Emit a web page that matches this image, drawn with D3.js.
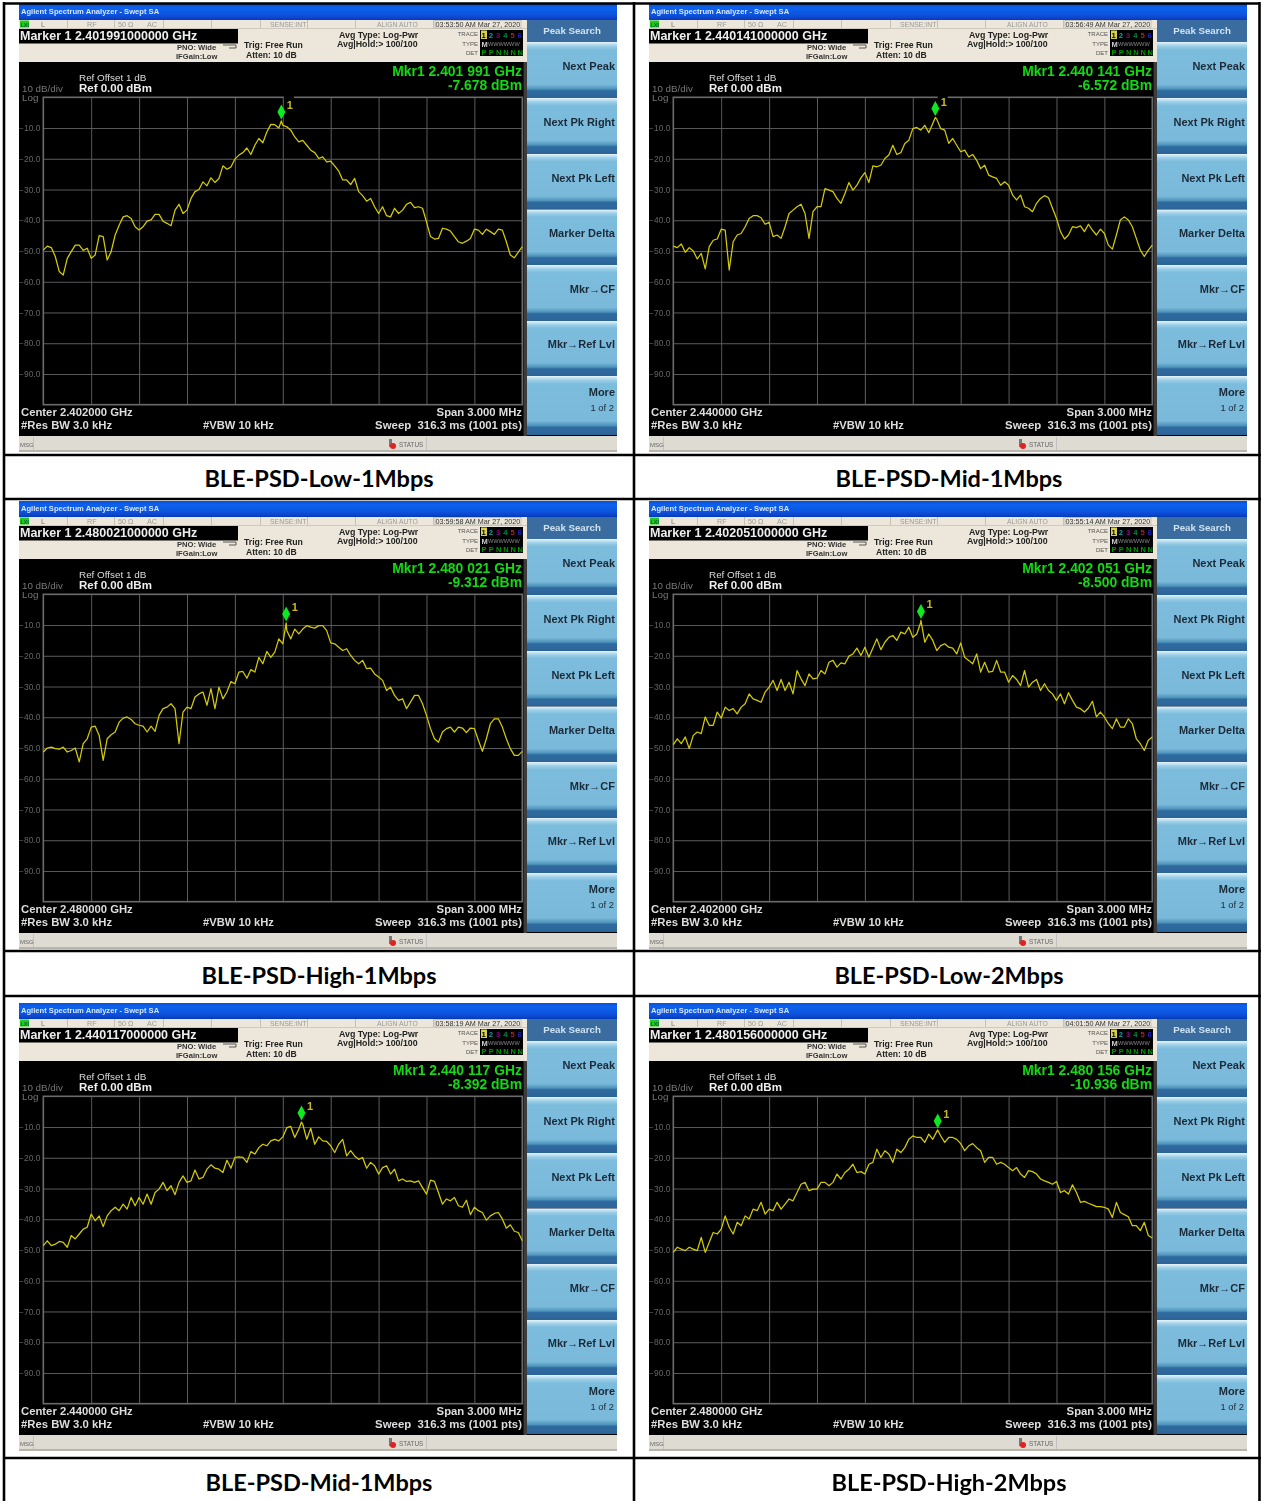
<!DOCTYPE html>
<html><head><meta charset="utf-8">
<script src="https://cdn.jsdelivr.net/npm/d3@7"></script>
<style>html,body{margin:0;padding:0;background:#fff}svg{display:block}text{font-family:"Liberation Sans",Arial,sans-serif}</style>
</head><body><div id="chart"></div>
<script>
const captions=["BLE-PSD-Low-1Mbps","BLE-PSD-Mid-1Mbps","BLE-PSD-High-1Mbps","BLE-PSD-Low-2Mbps","BLE-PSD-Mid-1Mbps","BLE-PSD-High-2Mbps"];
const centersGHz=[2.402,2.44,2.48,2.402,2.44,2.48];
const markersGHz=[2.401991,2.440141,2.480021,2.402051,2.440117,2.480156];
const markerLevels=[-7.678,-6.572,-9.312,-8.5,-8.392,-10.936];
const timeStamps=["03:53:50 AM","03:56:49 AM","03:59:58 AM","03:55:14 AM","03:58:19 AM","04:01:50 AM"];
const softKeys=["Next Peak","Next Pk Right","Next Pk Left","Marker Delta","Mkr→CF","Mkr→Ref Lvl","More"];
const yTicks=[-10,-20,-30,-40,-50,-60,-70,-80,-90];
const xTicksMHz=[-1.2,-0.9,-0.6,-0.3,0,0.3,0.6,0.9,1.2];
const traceLow1M=[-49.7,-48.4,-48.9,-51.8,-56.7,-57.8,-52.4,-50.2,-48.1,-48.1,-49.8,-49.1,-52.4,-51.3,-45.0,-45.3,-52.9,-50.2,-44.8,-41.6,-38.9,-38.5,-39.4,-42.1,-43.2,-42.1,-40.3,-39.9,-38.1,-38.1,-40.3,-41.0,-41.8,-36.7,-34.8,-37.8,-36.7,-32.9,-30.7,-30.0,-27.5,-28.8,-26.2,-27.7,-26.4,-22.3,-23.4,-22.7,-20.1,-18.8,-18.0,-16.5,-18.6,-15.6,-13.4,-14.8,-11.3,-8.8,-8.9,-10.0,-9.1,-9.6,-10.7,-12.9,-14.5,-14.0,-15.6,-17.2,-18.0,-19.9,-19.4,-21.0,-20.8,-22.3,-24.0,-26.9,-26.9,-28.4,-26.4,-30.7,-32.0,-33.8,-32.9,-35.6,-37.8,-35.6,-38.5,-38.9,-36.1,-37.8,-36.7,-34.8,-34.2,-35.9,-35.6,-36.1,-40.5,-45.3,-46.1,-45.9,-42.6,-42.9,-43.5,-45.3,-47.0,-47.5,-46.8,-45.9,-42.9,-43.2,-44.6,-42.9,-43.7,-44.6,-42.9,-43.2,-47.0,-51.3,-52.2,-50.4,-48.6];
const traceMid1M=[-48.4,-48.9,-47.7,-50.4,-48.9,-50.0,-52.6,-50.8,-55.8,-48.6,-46.5,-46.1,-42.9,-43.2,-56.2,-47.0,-44.8,-44.3,-42.1,-39.4,-38.5,-38.5,-39.2,-41.3,-40.7,-45.3,-44.8,-45.9,-42.1,-37.8,-36.7,-35.6,-34.8,-37.8,-45.9,-37.2,-35.6,-35.6,-29.7,-30.2,-30.7,-32.9,-34.5,-31.3,-27.7,-30.2,-28.6,-26.2,-24.5,-27.7,-22.3,-22.6,-22.1,-19.9,-18.8,-15.6,-18.6,-18.0,-15.0,-14.0,-10.2,-9.8,-10.7,-9.1,-11.5,-8.5,-7.1,-10.2,-10.7,-15.0,-13.4,-15.6,-17.7,-17.2,-19.4,-18.6,-20.5,-23.2,-22.1,-25.3,-25.9,-26.4,-28.6,-27.5,-28.6,-31.8,-33.4,-31.8,-35.6,-36.1,-37.2,-34.5,-32.9,-32.0,-32.7,-36.1,-39.4,-43.7,-46.1,-44.8,-42.1,-42.4,-41.8,-43.7,-41.3,-43.2,-44.8,-42.9,-44.3,-48.1,-49.4,-44.8,-39.9,-38.9,-39.9,-42.1,-45.9,-49.7,-51.8,-49.7,-48.1];
const traceHigh1M=[-51.3,-50.0,-49.7,-50.2,-50.4,-49.7,-51.3,-50.8,-50.0,-54.5,-48.6,-47.0,-43.2,-42.9,-45.9,-54.0,-47.0,-45.7,-44.8,-41.6,-40.3,-39.9,-40.7,-42.1,-42.6,-42.9,-44.8,-42.9,-44.6,-39.4,-37.2,-36.7,-35.6,-37.2,-48.6,-38.3,-36.7,-37.2,-33.4,-32.4,-31.8,-36.1,-30.7,-37.2,-30.2,-34.0,-31.8,-28.4,-29.1,-25.3,-25.1,-27.3,-24.5,-25.3,-20.5,-22.6,-18.6,-20.5,-18.8,-14.5,-16.1,-11.8,-14.5,-11.3,-12.9,-11.3,-10.2,-10.7,-11.0,-10.2,-10.2,-11.8,-15.8,-16.1,-17.2,-18.3,-17.7,-19.9,-21.5,-22.6,-21.5,-24.2,-24.0,-25.9,-26.9,-28.0,-31.3,-30.2,-32.9,-34.5,-34.0,-37.2,-35.1,-32.9,-32.9,-35.6,-39.4,-43.7,-47.0,-48.1,-44.8,-43.7,-43.2,-44.8,-43.2,-43.5,-45.0,-43.5,-43.7,-47.5,-51.1,-47.0,-42.1,-40.5,-40.5,-43.2,-47.0,-50.2,-52.4,-52.4,-51.1];
const traceLow2M=[-48.9,-47.0,-48.6,-46.4,-50.2,-45.9,-44.8,-45.3,-39.9,-42.6,-42.6,-38.3,-40.3,-36.7,-37.8,-37.2,-38.9,-36.7,-35.6,-32.4,-34.0,-34.5,-35.1,-31.8,-30.2,-28.0,-31.3,-27.7,-31.3,-28.6,-32.4,-24.8,-27.5,-29.7,-25.9,-27.5,-27.3,-24.8,-25.9,-22.1,-21.5,-23.7,-22.3,-22.6,-20.1,-19.4,-17.5,-19.9,-17.2,-20.5,-17.5,-14.5,-18.0,-15.6,-14.0,-13.4,-15.0,-12.3,-12.9,-10.7,-14.0,-12.9,-9.1,-15.6,-12.9,-15.0,-18.3,-16.7,-16.1,-17.2,-17.5,-19.4,-15.8,-20.5,-21.5,-22.6,-19.4,-25.3,-22.1,-25.3,-25.1,-21.5,-25.3,-25.3,-28.6,-26.4,-27.7,-29.7,-24.8,-30.2,-28.6,-27.7,-31.3,-29.1,-31.3,-32.4,-34.5,-32.4,-35.6,-32.0,-34.5,-36.7,-37.2,-38.3,-37.0,-34.8,-39.9,-38.3,-39.9,-42.1,-43.7,-40.5,-43.2,-43.2,-40.5,-42.1,-47.0,-48.6,-50.8,-47.5,-46.4];
const traceMid1Mb=[-48.6,-47.0,-48.6,-48.1,-47.2,-47.5,-49.1,-45.3,-46.4,-44.8,-43.2,-42.6,-38.3,-40.5,-38.9,-42.4,-38.9,-37.2,-36.1,-37.2,-35.1,-36.7,-32.9,-35.6,-32.9,-35.1,-31.8,-35.1,-31.3,-30.2,-28.0,-30.7,-29.1,-32.0,-28.0,-25.9,-28.0,-27.5,-24.0,-26.9,-26.4,-23.7,-22.3,-23.4,-23.7,-24.8,-20.8,-23.4,-19.9,-19.7,-19.9,-21.5,-18.0,-18.8,-16.7,-15.6,-16.1,-14.5,-14.0,-14.5,-13.2,-10.2,-9.8,-13.4,-10.7,-9.1,-14.0,-10.4,-15.6,-13.2,-14.5,-14.7,-16.1,-18.3,-15.6,-14.0,-19.4,-17.7,-19.4,-20.5,-19.9,-23.4,-21.5,-22.6,-25.3,-23.2,-22.6,-25.3,-23.7,-27.5,-26.9,-27.7,-27.5,-28.0,-27.5,-29.7,-31.8,-27.3,-27.7,-31.3,-35.1,-33.4,-34.0,-32.9,-35.6,-36.1,-33.8,-38.5,-36.1,-37.2,-37.8,-40.3,-38.9,-38.1,-37.8,-39.9,-42.9,-41.8,-43.9,-44.3,-47.0];
const traceHigh2M=[-50.8,-49.1,-49.7,-50.2,-49.1,-49.7,-50.2,-45.9,-50.8,-47.5,-44.3,-44.8,-43.2,-38.9,-42.6,-44.8,-41.0,-42.1,-38.9,-39.9,-36.7,-37.2,-34.5,-38.3,-36.7,-37.2,-34.5,-36.7,-35.1,-33.4,-34.0,-31.3,-28.6,-28.0,-30.7,-30.2,-30.2,-28.0,-28.0,-29.1,-28.0,-25.3,-26.9,-24.8,-23.7,-22.1,-24.8,-24.5,-25.3,-22.1,-21.5,-17.2,-19.9,-17.7,-18.8,-21.5,-17.2,-18.3,-16.7,-14.0,-12.9,-13.4,-13.4,-15.0,-12.3,-14.0,-11.5,-12.9,-15.0,-13.4,-13.4,-14.0,-15.4,-17.7,-16.1,-15.4,-16.7,-17.7,-21.5,-19.9,-19.9,-22.1,-21.5,-22.1,-23.2,-24.2,-23.2,-25.3,-26.4,-24.2,-24.5,-25.3,-26.9,-27.5,-28.0,-28.6,-27.7,-31.3,-30.7,-31.8,-28.8,-31.3,-34.5,-34.2,-34.8,-35.3,-35.9,-35.9,-36.1,-36.7,-39.4,-34.5,-37.8,-38.5,-39.2,-42.1,-42.1,-43.7,-41.0,-45.3,-46.1];
const traces=[traceLow1M,traceMid1M,traceHigh1M,traceLow2M,traceMid1Mb,traceHigh2M];

const W=1261,H=1501,colDx=630,rowDy=[0,497,999];
const svg=d3.select("#chart").append("svg").attr("width",W).attr("height",H);
const defs=svg.append("defs");
defs.append("filter").attr("id","soft").attr("x",0).attr("y",0).attr("width",1).attr("height",1)
  .attr("filterUnits","objectBoundingBox").append("feGaussianBlur").attr("stdDeviation",0.38);
function grad(id,stops){const g=defs.append("linearGradient").attr("id",id).attr("x1",0).attr("x2",0).attr("y1",0).attr("y2",1);
  stops.forEach(s=>g.append("stop").attr("offset",s[0]).attr("stop-color",s[1]));}
grad("titleG",[[0,"#0a4fd8"],[0.25,"#0f62ee"],[0.7,"#0a52dc"],[1,"#0638b8"]]);
grad("keyG",[[0,"#e8f4fa"],[0.07,"#9ccfe8"],[0.14,"#7cbcdc"],[0.76,"#7ab9da"],[0.84,"#4d93ba"],[0.87,"#2f6ba0"],[1,"#2c6498"]]);

function txt(g,x,y,s,size,fill,opt={}){
  return g.append("text").attr("x",x).attr("y",y).text(s).attr("font-size",size).attr("fill",fill)
    .attr("font-weight",opt.w||"normal").attr("text-anchor",opt.a||"start").attr("xml:space","preserve").style("white-space","pre");
}
const rect=(g,x,y,w,h,f)=>g.append("rect").attr("x",x).attr("y",y).attr("width",w).attr("height",h).attr("fill",f);

const x=d3.scaleLinear().domain([-1.5,1.5]).range([43.3,522.3]);
const y=d3.scaleLinear().domain([0,-100]).range([97.3,404.7]);
const line=d3.line().x(d=>x(d[0])).y(d=>y(d[1]));

function spaced(ghz){const s=ghz.toFixed(6);return s.slice(0,5)+" "+s.slice(5);}

captions.forEach((cap,i)=>{
  const layout=[[0,0],[1,0],[0,1],[1,1],[0,2],[1,2]][i];
  const dx=layout[0]*colDx, dy=rowDy[layout[1]];
  const g=svg.append("g").attr("transform",`translate(${dx},${dy})`).attr("filter","url(#soft)");
  rect(g,19,4,598,448,"#000");
  rect(g,19,4,598,16,"url(#titleG)");
  txt(g,21,14,"Agilent Spectrum Analyzer - Swept SA",7.6,"#d5e6ff",{w:"bold"});
  rect(g,19,20,508,42,"#ece7da");
  rect(g,19,28,508,1,"#cfcabb");
  rect(g,20,20.5,9,7,"#22c81e");
  txt(g,20.5,26.5,"LXI",5.5,"#063",{w:"bold"});
  txt(g,41,26.5,"L",7.5,"#777");
  txt(g,87,26.5,"RF",7.2,"#999");
  txt(g,118,26.5,"50 Ω",7.2,"#999");
  txt(g,147,26.5,"AC",7.2,"#999");
  txt(g,270,26.5,"SENSE:INT",6.9,"#999");
  txt(g,377,26.5,"ALIGN AUTO",6.8,"#999");
  [67,114,163,211,260,307,355,433].forEach(v=>rect(g,v,20,0.8,8,"#bdb8a8"));
  g.append("rect").attr("x",435).attr("y",20.5).attr("width",86).attr("height",7.5).attr("fill","none").attr("stroke","#aaa").attr("stroke-width",0.6);
  txt(g,435.5,26.8,timeStamps[i]+" Mar 27, 2020",7.2,"#333");
  rect(g,19,29,219,14.5,"#000");
  txt(g,20,40,"Marker 1 "+markersGHz[i].toFixed(12)+" GHz",12.5,"#eee",{w:"bold"});
  txt(g,177,50,"PNO: Wide",7.6,"#333",{w:"bold"});
  txt(g,176,59,"IFGain:Low",7.6,"#333",{w:"bold"});
  g.append("path").attr("d","M223 45h13v3h-4M229 48l3 0").attr("fill","none").attr("stroke","#333").attr("stroke-width",0.8);
  txt(g,244,47.5,"Trig: Free Run",8.7,"#222",{w:"bold"});
  txt(g,246,58,"Atten: 10 dB",8.6,"#222",{w:"bold"});
  txt(g,339,37.5,"Avg Type: Log-Pwr",8.8,"#222",{w:"bold"});
  txt(g,337,47,"Avg|Hold:> 100/100",8.8,"#222",{w:"bold"});
  txt(g,478,36,"TRACE",6,"#555",{a:"end"});
  txt(g,478,45.5,"TYPE",6,"#555",{a:"end"});
  txt(g,478,54.5,"DET",6,"#555",{a:"end"});
  rect(g,480,30,43,26,"#000");
  rect(g,481,30.5,6,8.5,"#d8d04a");
  ["1","2","3","4","5","6"].forEach((d,k)=>txt(g,481.6+k*7.2,37.5,d,7.6,["#000","#0aa","#808","#084","#a22","#22c"][k],{w:"bold"}));
  txt(g,481.5,46.5,"M",7.5,"#ccc",{w:"bold"});
  txt(g,488,46,"WWWWWW",5.6,"#888");
  ["P","P","N","N","N","N"].forEach((d,k)=>txt(g,481.6+k*7.2,54.8,d,7.5,"#090",{w:"bold"}));

  txt(g,522,76,"Mkr1 "+spaced(markersGHz[i])+" GHz",13.9,"#12d812",{w:"bold",a:"end"});
  txt(g,522,90,markerLevels[i].toFixed(3)+" dBm",13.9,"#12d812",{w:"bold",a:"end"});
  txt(g,79,81,"Ref Offset 1 dB",9.9,"#ddd");
  txt(g,79,92,"Ref 0.00 dBm",11.5,"#eee",{w:"bold"});
  txt(g,22,92,"10 dB/div",9.8,"#777");
  txt(g,22,100.5,"Log",9.8,"#777");

  const yAxis=d3.axisLeft(y).tickValues(yTicks).tickSize(-(x.range()[1]-x.range()[0])).tickPadding(3).tickFormat(d3.format(".1f"));
  const ax=g.append("g").attr("transform",`translate(${x.range()[0]},0)`).call(yAxis);
  const xAxis=d3.axisBottom(x).tickValues(xTicksMHz).tickSize(-(y.range()[1]-y.range()[0])).tickFormat("");
  const bx=g.append("g").attr("transform",`translate(0,${y.range()[1]})`).call(xAxis);
  [ax,bx].forEach(a=>{a.select(".domain").remove();a.selectAll("line").attr("stroke","#5c5c5c").attr("stroke-width",1);});
  ax.selectAll("text").attr("fill","#666").attr("font-size",8.4).style("font-family","'Liberation Sans'");
  g.append("rect").attr("x",x.range()[0]).attr("y",y.range()[0]).attr("width",x.range()[1]-x.range()[0]).attr("height",y.range()[1]-y.range()[0])
    .attr("fill","none").attr("stroke","#6a6a6a").attr("stroke-width",1.6);

  const mOff=(markersGHz[i]-centersGHz[i])*1000;
  const pts=traces[i].map((v,k,a)=>[-1.5+3*k/(a.length-1),v]);
  pts.push([mOff,markerLevels[i]]);
  pts.sort((a,b)=>a[0]-b[0]);
  g.append("path").datum(pts).attr("d",line).attr("fill","none").attr("stroke","#d4cc00").attr("stroke-width",1.25).attr("stroke-linejoin","round");

  const mx=x(mOff), my=y(markerLevels[i])-9;
  if(markerLevels[i]>-8) rect(g,mx+2.5,y.range()[0]-2,10,4,"#000");
  g.append("path").attr("d",`M${mx} ${my-7.5}L${mx+4} ${my}L${mx} ${my+7.5}L${mx-4} ${my}Z`).attr("fill","#10e820");
  txt(g,mx+5.5,my-3,"1",11,"#c8b820",{w:"bold"});

  txt(g,21,416,"Center "+centersGHz[i].toFixed(6)+" GHz",11.3,"#ddd",{w:"bold"});
  txt(g,21,429,"#Res BW 3.0 kHz",11.3,"#ddd",{w:"bold"});
  txt(g,203,429,"#VBW 10 kHz",11.2,"#ddd",{w:"bold"});
  txt(g,522,416,"Span 3.000 MHz",11.3,"#ddd",{w:"bold",a:"end"});
  txt(g,522,429,"Sweep  316.3 ms (1001 pts)",11.4,"#ddd",{w:"bold",a:"end"});

  rect(g,19,436,598,16,"#dedbd3");
  rect(g,19,450,598,2,"#b8b5ad");
  rect(g,33,437,0.8,13,"#bbb");rect(g,426,437,0.8,13,"#bbb");
  txt(g,20,446.5,"MSG",6,"#666");
  rect(g,389,439,3,8,"#777");
  g.append("circle").attr("cx",393).attr("cy",446).attr("r",3).attr("fill","#e02020");
  txt(g,399,446.5,"STATUS",6.4,"#666");

  rect(g,523.5,62,3.5,374,"#3c3c3c");
  rect(g,527,20,90,22,"#3a6c9f");
  txt(g,572,34,"Peak Search",9.7,"#cfe2f2",{w:"bold",a:"middle"});
  const tops=[42,98,154,209.5,265,321,376,435];
  const ys=[70,126,182,237,293,348,396];
  softKeys.forEach((s,k)=>{
    rect(g,527,tops[k],90,tops[k+1]-tops[k],"url(#keyG)");
    txt(g,615,ys[k],s,11,"#1b2a38",{w:"bold",a:"end"});
  });
  txt(g,614,411,"1 of 2",9.4,"#1b2a38",{a:"end"});

  svg.append("text").attr("x",dx+319).attr("y",dy+(layout[1]===2?491.5:486.5)).text(cap)
    .attr("text-anchor","middle").attr("font-size",23.5).attr("font-weight","bold").attr("fill","#000")
    .style("font-family","Lato");
});

const rules=[[3,3.5,W-1,3.5],[3,455,W,455],[3,499,W,499],[3,951,W,951],[3,996,W,996],[3,1458,W,1458]];
svg.selectAll("line.rule").data(rules).join("line").attr("class","rule")
  .attr("x1",d=>d[0]).attr("y1",d=>d[1]).attr("x2",d=>d[2]).attr("y2",d=>d[3]).attr("stroke","#000").attr("stroke-width",2.6);
svg.selectAll("line.v").data([4,634,1259.5]).join("line").attr("class","v")
  .attr("x1",d=>d).attr("x2",d=>d).attr("y1",2).attr("y2",H).attr("stroke","#000").attr("stroke-width",2.6);
</script></body></html>
